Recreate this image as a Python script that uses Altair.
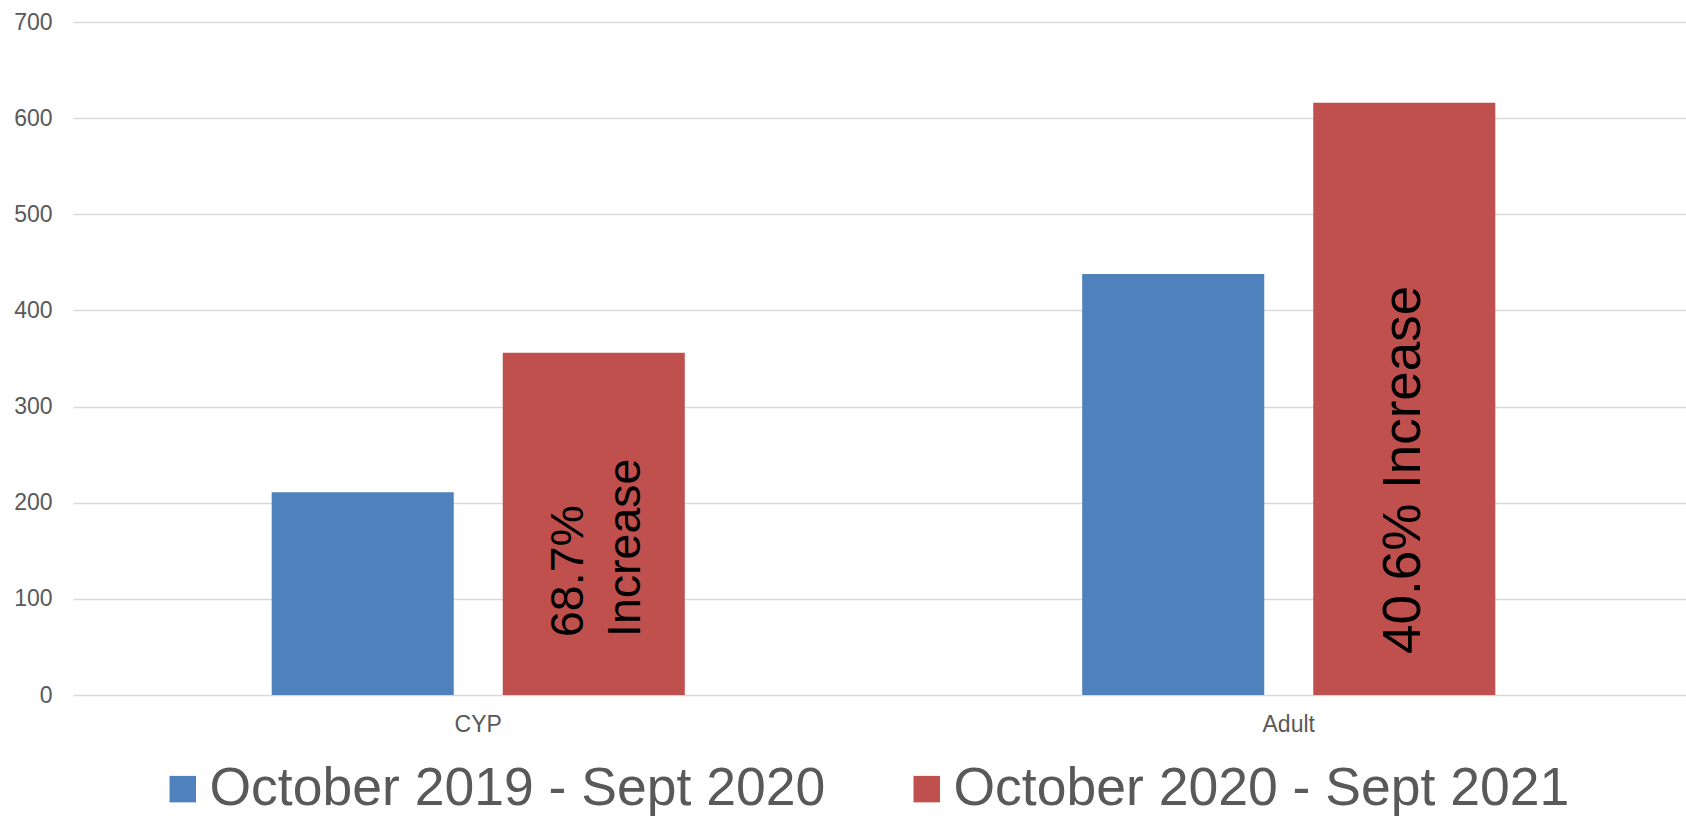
import altair as alt
import pandas as pd

categories = ["CYP", "Adult"]
series_names = ["October 2019 - Sept 2020", "October 2020 - Sept 2021"]
values_2019_20 = [211, 438]
values_2020_21 = [356, 616]
increase_labels = [["68.7%", "Increase"], ["40.6% Increase"]]
colors = ["#4f81bd", "#c0504d"]

rows = []
for c, v1, v2 in zip(categories, values_2019_20, values_2020_21):
    rows.append({"category": c, "series": series_names[0], "value": v1})
    rows.append({"category": c, "series": series_names[1], "value": v2})
df = pd.DataFrame(rows)

FONT = "Liberation Sans"
GREY = "#595959"

x_enc = alt.X(
    "category:N",
    sort=categories,
    title=None,
    scale=alt.Scale(range=[0, 1621], paddingInner=0, paddingOuter=0),
    axis=alt.Axis(domain=False, ticks=False, labelAngle=0, labelFontSize=23,
                  labelColor=GREY, labelFont=FONT, labelPadding=18),
)
xoff_enc = alt.XOffset(
    "series:N", sort=series_names,
    scale=alt.Scale(paddingInner=0.2121, paddingOuter=0.86),
)
y_scale = alt.Scale(domain=[0, 700])

bars = alt.Chart(df).mark_bar().encode(
    x=x_enc,
    xOffset=xoff_enc,
    y=alt.Y(
        "value:Q",
        title=None,
        scale=y_scale,
        axis=alt.Axis(values=list(range(0, 701, 100)), domain=False, ticks=False,
                      labelFontSize=23, labelColor=GREY, labelFont=FONT,
                      labelPadding=21, gridColor="#d9d9d9", gridWidth=1.5),
    ),
    color=alt.Color(
        "series:N",
        sort=series_names,
        scale=alt.Scale(domain=series_names, range=colors),
        legend=alt.Legend(
            orient="none", legendX=83, legendY=740, direction="horizontal",
            columns=2, title=None, symbolType="square", symbolSize=700,
            symbolStrokeWidth=0, symbolOpacity=1, labelFontSize=53.5,
            labelFont=FONT, labelColor=GREY, labelOffset=0,
            columnPadding=74, padding=0, labelLimit=2000,
        ),
    ),
)

lab_cyp = pd.DataFrame({"category": [categories[0]], "series": [series_names[1]],
                        "label": [increase_labels[0]]})
lab_adult = pd.DataFrame({"category": [categories[1]], "series": [series_names[1]],
                          "label": [increase_labels[1]]})

text_cyp = alt.Chart(lab_cyp).mark_text(
    angle=270, align="left", baseline="middle", fontSize=46.5, lineHeight=57,
    dx=58, dy=-25, font=FONT, color="black",
).encode(x=x_enc, xOffset=xoff_enc, y=alt.datum(0), text=alt.Text("label:N"))

text_adult = alt.Chart(lab_adult).mark_text(
    angle=270, align="left", baseline="middle", fontSize=53,
    dx=41, dy=0, font=FONT, color="black",
).encode(x=x_enc, xOffset=xoff_enc, y=alt.datum(0), text=alt.Text("label:N"))

chart = alt.layer(bars, text_cyp, text_adult).properties(
    width=1613,
    height=673,
    autosize=alt.AutoSizeParams(type="none"),
    padding={"left": 73, "top": 22, "right": 0, "bottom": 123},
    background="white",
).configure_view(stroke=None)

chart.save("out.html", embed_options={"renderer": "svg", "actions": False})
